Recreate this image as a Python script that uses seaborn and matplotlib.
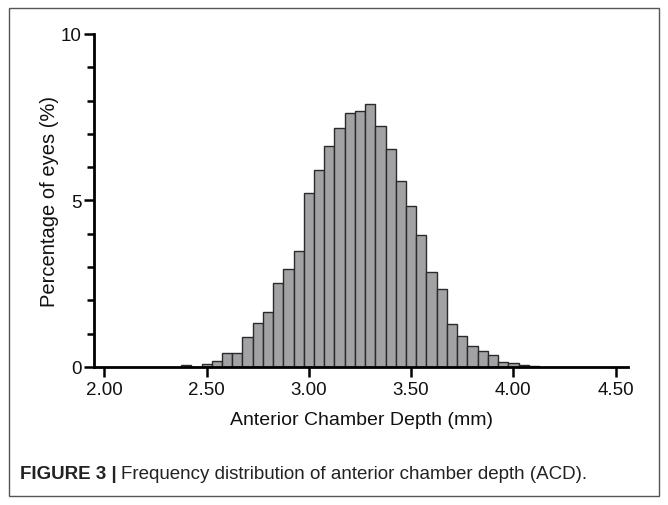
import numpy as np
import matplotlib
matplotlib.use("Agg")
import matplotlib.pyplot as plt
from matplotlib.patches import Rectangle
from matplotlib.ticker import MultipleLocator, FormatStrFormatter
import seaborn as sns

# Bin centres (mm) and percentage of eyes
acd_bins = [2.40, 2.45, 2.50, 2.55, 2.60, 2.65, 2.70, 2.75, 2.80, 2.85,
            2.90, 2.95, 3.00, 3.05, 3.10, 3.15, 3.20, 3.25, 3.30, 3.35,
            3.40, 3.45, 3.50, 3.55, 3.60, 3.65, 3.70, 3.75, 3.80, 3.85,
            3.90, 3.95, 4.00, 4.05, 4.10]
pct_eyes = [0.06, 0.0, 0.08, 0.17, 0.41, 0.41, 0.89, 1.31, 1.64, 2.52,
            2.94, 3.47, 5.21, 5.92, 6.63, 7.16, 7.62, 7.68, 7.89, 7.23,
            6.53, 5.59, 4.82, 3.97, 2.86, 2.33, 1.28, 0.94, 0.64, 0.49,
            0.35, 0.16, 0.12, 0.06, 0.03]
x_ticks = [2.00, 2.50, 3.00, 3.50, 4.00, 4.50]

sns.set_style("ticks")
plt.rcParams["font.family"] = ["Liberation Sans", "DejaVu Sans"]

fig = plt.figure(figsize=(6.68, 5.06), dpi=100)
ax = fig.add_axes([0.141, 0.273, 0.799, 0.658])

sns.histplot(x=acd_bins, weights=pct_eyes, binwidth=0.05, binrange=(2.375, 4.125),
             color="#a2a2a4", edgecolor="#2a2a2a", linewidth=1.0, alpha=1.0, ax=ax)

ax.set_xlim(1.95, 4.56)
ax.set_ylim(0, 10)
ax.set_xticks(x_ticks)
ax.xaxis.set_major_formatter(FormatStrFormatter("%.2f"))
ax.yaxis.set_major_locator(MultipleLocator(5))
ax.yaxis.set_minor_locator(MultipleLocator(1))
ax.tick_params(axis="both", which="major", labelsize=13.5, width=1.8, length=7,
               color="black", labelcolor="#111111")
ax.tick_params(axis="y", which="minor", width=1.8, length=5, color="black")
ax.tick_params(axis="y", which="major", pad=2)
for side in ["left", "bottom"]:
    ax.spines[side].set_linewidth(2)
    ax.spines[side].set_color("black")
sns.despine(ax=ax)

ax.set_xlabel("Anterior Chamber Depth (mm)", fontsize=14, labelpad=9, color="#111111")
ax.set_ylabel("Percentage of eyes (%)", fontsize=14.5, labelpad=1, color="#111111")

# frame around the whole figure
fig.patches.append(Rectangle((9 / 668, 9 / 506), 650 / 668, 488 / 506, transform=fig.transFigure,
                             fill=False, edgecolor="#555555", linewidth=1.0))

# caption: bold label followed by regular text
t1 = fig.text(20 / 668, 0.063, "FIGURE 3 |", fontsize=13.5, fontweight="bold",
              color="#222222", va="center")
fig.canvas.draw()
bb = t1.get_window_extent()
fig.text((bb.x1 + 4) / 668, 0.063, "Frequency distribution of anterior chamber depth (ACD).",
         fontsize=13.5, color="#222222", va="center")

fig.savefig("out.png", dpi=100)
